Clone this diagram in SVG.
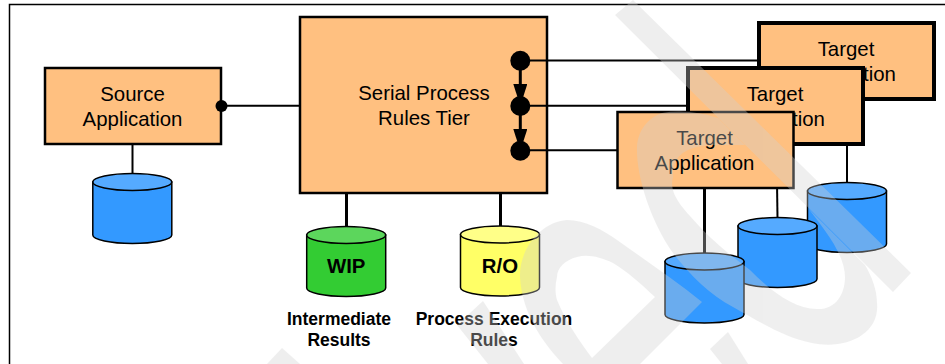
<svg xmlns="http://www.w3.org/2000/svg" width="945" height="364" viewBox="0 0 945 364">
<style>
text{font-family:"Liberation Sans",Arial,sans-serif;fill:#000;text-anchor:middle}
.t{font-size:20.4px}
.b{font-weight:bold;font-size:17.5px}
.c{font-weight:bold;font-size:20.4px}
.box{fill:#ffc080;stroke:#000;stroke-width:2.5}
.thick{stroke-width:4}
.side{stroke:#000;stroke-width:1.5}
.blue{fill:#3399ff}.blueTop{fill:#55aaff}
.green{fill:#33cc33}.greenTop{fill:#5cd65c}
.yellow{fill:#ffff66}.yellowTop{fill:#ffff88}
.conn{fill:none;stroke:#000;stroke-width:2}
.heavy{stroke-width:3}
.dot{fill:#000}
.wm{fill:#d1d1d1}
</style>
<defs>
<marker id="tri" markerUnits="userSpaceOnUse" markerWidth="22" markerHeight="14" refX="22" refY="7" orient="auto" viewBox="0 0 22 14">
<path d="M0,0L22,7L0,14Z" fill="#000"/>
</marker>
<path id="cylBody" d="M0,0V53A39.5,8.5 0 0 0 79,53V0Z"/>
<ellipse id="cylTop" cx="39.5" cy="0" rx="39.5" ry="8.5"/>
</defs>
<path id="frame" d="M9.5,364V4.5H945" fill="none" stroke="#000" stroke-width="1.5"/>
<g id="source">
<rect class="box" x="45" y="68" width="176" height="76"/>
<text class="t" x="132.500" y="101">Source</text>
<text class="t" x="132.500" y="126">Application</text>
</g>
<g id="serial">
<rect class="box" x="300" y="17" width="247" height="176"/>
<text class="t" x="424" y="100">Serial Process</text>
<text class="t" x="424" y="125">Rules Tier</text>
</g>
<g id="connectors">
<path class="conn" d="M132.500,144V174"/>
<path class="conn" d="M222,105.700H300"/>
<path class="conn heavy" d="M346.500,193V227"/>
<path class="conn heavy" d="M500.500,193V227"/>
<path class="conn" d="M520,60.500H757"/>
<path class="conn" d="M520,105.700H686"/>
<path class="conn" d="M520,150.300H617"/>
<path class="conn heavy" d="M520.300,61V106" marker-end="url(#tri)"/>
<path class="conn heavy" d="M520.300,106V151" marker-end="url(#tri)"/>
<path class="conn heavy" d="M704.500,188V253"/>
<path class="conn" d="M776.500,146L777.500,218"/>
<path class="conn" d="M847,99V183"/>
<circle class="dot" cx="221.500" cy="106" r="6"/>
<circle class="dot" cx="520.300" cy="60.700" r="10"/>
<circle class="dot" cx="520.300" cy="106" r="10"/>
<circle class="dot" cx="520.300" cy="150.800" r="10"/>
</g>
<g id="target3">
<rect class="box thick" x="759" y="23" width="175" height="76"/>
<text class="t" x="846" y="56">Target</text>
<text class="t" x="846" y="81">Application</text>
</g>
<g id="target2">
<rect class="box thick" x="688" y="68" width="175" height="76"/>
<text class="t" x="775" y="101">Target</text>
<text class="t" x="775" y="126">Application</text>
</g>
<g id="target1">
<rect class="box" x="617.500" y="112" width="176" height="76"/>
<text class="t" x="704.500" y="145">Target</text>
<text class="t" x="704.500" y="170">Application</text>
</g>
<g id="db-source" transform="translate(92.800,182)">
<use href="#cylBody" class="blue side"/><use href="#cylTop" class="blueTop side"/>
</g>
<g id="db-wip" transform="translate(306.700,235)">
<use href="#cylBody" class="green side"/><use href="#cylTop" class="greenTop side"/>
<text class="c" x="39.500" y="37.500">WIP</text>
</g>
<g id="db-ro" transform="translate(460.500,234.500)">
<use href="#cylBody" class="yellow side"/><use href="#cylTop" class="yellowTop side"/>
<text class="c" x="39.500" y="38">R/O</text>
</g>
<g id="db-target3" transform="translate(807.500,191)">
<use href="#cylBody" class="blue side"/><use href="#cylTop" class="blueTop side"/>
</g>
<g id="db-target2" transform="translate(738,226)">
<use href="#cylBody" class="blue side"/><use href="#cylTop" class="blueTop side"/>
</g>
<g id="db-target1" transform="translate(665,261.500)">
<use href="#cylBody" class="blue side"/><use href="#cylTop" class="blueTop side"/>
</g>
<g id="label-wip">
<text class="b" x="339" y="325">Intermediate</text>
<text class="b" x="339" y="345.700">Results</text>
</g>
<g id="label-ro">
<text class="b" x="494" y="325">Process Execution</text>
<text class="b" x="494" y="345.700">Rules</text>
</g>
<g id="watermark" class="wm" opacity="0.35">
<path d="M633,0L911,273L893,292L615,15Z M718,118C700,112 680,110 662,113C648,118 638,130 637,147C636,175 650,220 673,253C690,275 710,295 733,307C760,322 785,338 812,343C845,350 880,335 877,303C877,290 872,277 865,265L808,208C825,230 845,255 845,277C845,295 835,310 817,309C795,308 775,295 750,270C730,255 712,240 700,227C685,210 668,195 673,177C672,160 680,148 708,145L745,145Z"/>
<path fill-rule="evenodd" d="M520,277C519,250 540,222 567,220C585,220 603,230 617,240C645,260 675,280 702,302L640,364H563C545,345 522,315 520,277ZM655,297C640,283 628,272 613,263C600,257 588,254 577,257C565,260 557,268 557,277C555,285 555,293 557,300C565,320 580,342 592,358Z"/>
<path d="M483,301L524,364H488L457,325Z"/>
<path d="M267,364L282,348L300,364Z"/>
<path d="M728,332L710,349L722,364H748Z"/>
</g>
</svg>
